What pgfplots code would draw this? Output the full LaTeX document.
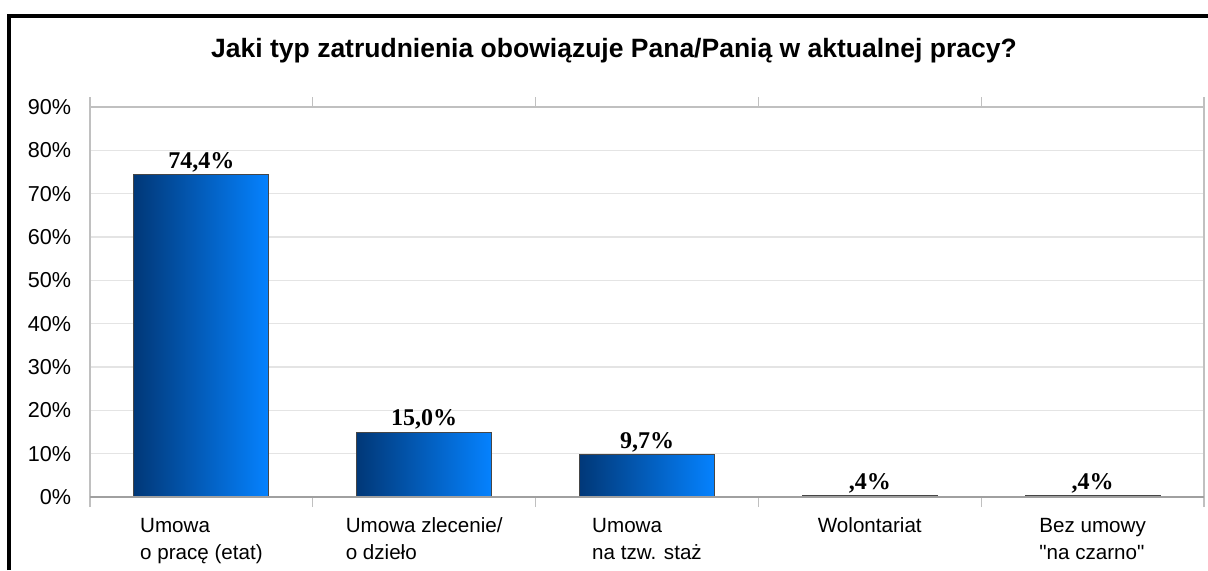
\documentclass[border=0pt]{standalone}
\usepackage{fontspec}
\setmainfont{Liberation Sans}[Ligatures=TeXOff]
\newfontfamily\serifb{Liberation Serif}
\usepackage{pgfplots}
\pgfplotsset{compat=1.18}
\definecolor{barL}{RGB}{1,56,120}
\definecolor{barR}{RGB}{5,130,255}
\definecolor{gridc}{RGB}{228,228,228}
\definecolor{boxc}{RGB}{192,192,192}
\definecolor{barE}{RGB}{70,70,70}
\begin{document}
\begin{tikzpicture}
\path[use as bounding box] (-45pt,-36.5pt) rectangle (559pt,248.5pt);
\begin{axis}[
  anchor=origin,
  scale only axis, width=557pt, height=195pt,
  xmin=0, xmax=5, ymin=0, ymax=90,
  axis line style={boxc, line width=0.6pt},
  xtick={0.5,1.5,2.5,3.5,4.5},
  xticklabels={{\strut Umowa\\o pracę (etat)},{\strut Umowa zlecenie/\\o dzieło},{\strut Umowa\\na tzw. staż},{\strut Wolontariat\\\mbox{}},{\strut Bez umowy\\"na czarno"}},
  xticklabel style={align=left, anchor=north, inner sep=0pt, yshift=-3.9pt, font=\fontsize{10.3}{13.5}\selectfont},
  major x tick style={draw=none},
  minor xtick={0,1,2,3,4,5},
  minor tick length=5pt,
  minor x tick style={boxc, line width=0.6pt},
  tick align=outside,
  ytick={0,10,...,90},
  yticklabels={0\%,10\%,20\%,30\%,40\%,50\%,60\%,70\%,80\%,90\%},
  yticklabel style={anchor=east, inner sep=0pt, xshift=-5pt, font=\fontsize{10.8}{12}\selectfont},
  major y tick style={draw=none},
  ymajorgrids, grid style={gridc, line width=0.6pt},
  clip=false,
  ybar, bar width=67.5pt, bar shift=0pt,
  point meta=explicit symbolic,
  nodes near coords,
  nodes near coords style={anchor=south, inner sep=1pt, text=black, font=\serifb\bfseries\fontsize{12}{13}\selectfont},
  every axis plot post/.append style={draw=barE, line width=0.5pt, left color=barL, right color=barR},
]
\addplot coordinates {(0.5,74.4) [{74,4\%}]};
\addplot coordinates {(1.5,15.0) [{15,0\%}]};
\addplot coordinates {(2.5,9.7) [{9,7\%}]};
\addplot coordinates {(3.5,0.4) [{,4\%}]};
\addplot coordinates {(4.5,0.4) [{,4\%}]};
\draw[draw={rgb,255:red,160;green,160;blue,160}, line width=0.7pt] (axis cs:0,0) -- (axis cs:5,0);
\end{axis}
\begin{scope}[x=1pt,y=1pt,shift={(-45pt,-36.5pt)}]
\draw[line width=1.6pt] (4.5,0) -- (4.5,277) -- (604,277);
\node[anchor=base,font=\bfseries\fontsize{13.25}{15}\selectfont] at (307,256.5) {Jaki typ zatrudnienia obowiązuje Pana/Panią w aktualnej pracy?};
\end{scope}
\end{tikzpicture}
\end{document}
